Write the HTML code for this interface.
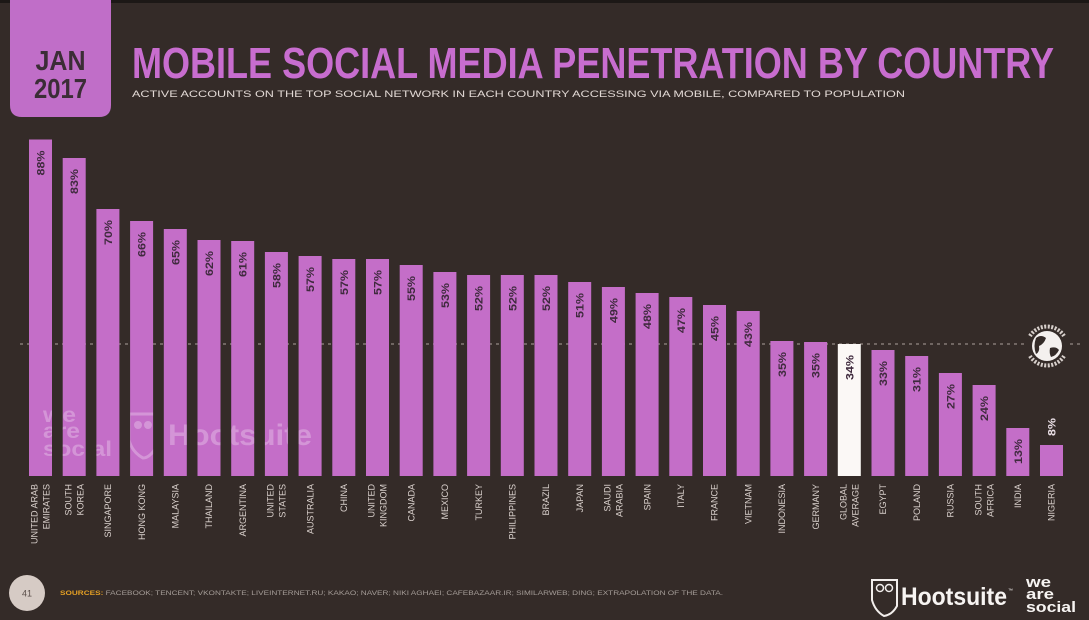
<!DOCTYPE html>
<html>
<head>
<meta charset="utf-8">
<style>
html,body{margin:0;padding:0;background:#342b28;}
body{width:1089px;height:620px;overflow:hidden;}
svg{display:block;}
.pct{font-family:"Liberation Sans",sans-serif;font-weight:bold;font-size:11px;fill:#3f2a3e;text-anchor:end;}
.cty{font-family:"Liberation Sans",sans-serif;font-size:9px;fill:#d9d0cc;text-anchor:end;}
</style>
</head>
<body>
<svg width="1089" height="620" viewBox="0 0 1089 620" xmlns="http://www.w3.org/2000/svg">
<defs>
<clipPath id="barclip">
<rect x="29" y="139.5" width="23" height="336.5"/>
<rect x="62.7" y="158" width="23" height="318"/>
<rect x="96.4" y="209" width="23" height="267"/>
<rect x="130.1" y="221" width="23" height="255"/>
<rect x="163.8" y="229" width="23" height="247"/>
<rect x="197.5" y="240" width="23" height="236"/>
<rect x="231.2" y="241" width="23" height="235"/>
<rect x="264.9" y="252" width="23" height="224"/>
<rect x="298.6" y="256" width="23" height="220"/>
</clipPath>
</defs>
<rect x="0" y="0" width="1089" height="620" fill="#342b28"/>
<rect x="0" y="0" width="1089" height="3" fill="#1c1816"/>

<!-- JAN box -->
<path d="M10 0 H111 V105 Q111 117 99 117 H22 Q10 117 10 105 Z" fill="#c06ec8"/>
<text x="60.5" y="70" text-anchor="middle" font-family="Liberation Sans, sans-serif" font-weight="bold" font-size="28" fill="#3b2d36" textLength="50" lengthAdjust="spacingAndGlyphs">JAN</text>
<text x="60.5" y="98" text-anchor="middle" font-family="Liberation Sans, sans-serif" font-weight="bold" font-size="28" fill="#3b2d36" textLength="53" lengthAdjust="spacingAndGlyphs">2017</text>

<!-- Title -->
<text x="132" y="78" font-family="Liberation Sans, sans-serif" font-weight="bold" font-size="44" fill="#c86dcf" textLength="922" lengthAdjust="spacingAndGlyphs">MOBILE SOCIAL MEDIA PENETRATION BY COUNTRY</text>
<text x="132" y="97" font-family="Liberation Sans, sans-serif" font-size="9.5" fill="#e2d9d5" textLength="773" lengthAdjust="spacingAndGlyphs">ACTIVE ACCOUNTS ON THE TOP SOCIAL NETWORK IN EACH COUNTRY ACCESSING VIA MOBILE, COMPARED TO POPULATION</text>

<!-- dashed average line -->
<line x1="20" y1="344" x2="1080" y2="344" stroke="#948a84" stroke-width="1.2" stroke-dasharray="3 4"/>

<!-- bars -->
<g fill="#c46ec8">
<rect x="29" y="139.5" width="23" height="336.5"/>
<rect x="62.7" y="158" width="23" height="318"/>
<rect x="96.4" y="209" width="23" height="267"/>
<rect x="130.1" y="221" width="23" height="255"/>
<rect x="163.8" y="229" width="23" height="247"/>
<rect x="197.5" y="240" width="23" height="236"/>
<rect x="231.2" y="241" width="23" height="235"/>
<rect x="264.9" y="252" width="23" height="224"/>
<rect x="298.6" y="256" width="23" height="220"/>
<rect x="332.3" y="259" width="23" height="217"/>
<rect x="366" y="259" width="23" height="217"/>
<rect x="399.7" y="265" width="23" height="211"/>
<rect x="433.4" y="272" width="23" height="204"/>
<rect x="467.1" y="275" width="23" height="201"/>
<rect x="500.8" y="275" width="23" height="201"/>
<rect x="534.5" y="275" width="23" height="201"/>
<rect x="568.2" y="282" width="23" height="194"/>
<rect x="601.9" y="287" width="23" height="189"/>
<rect x="635.6" y="293" width="23" height="183"/>
<rect x="669.3" y="297" width="23" height="179"/>
<rect x="703" y="305" width="23" height="171"/>
<rect x="736.7" y="311" width="23" height="165"/>
<rect x="770.4" y="341" width="23" height="135"/>
<rect x="804.1" y="342" width="23" height="134"/>
<rect x="871.5" y="350" width="23" height="126"/>
<rect x="905.2" y="356" width="23" height="120"/>
<rect x="938.9" y="373" width="23" height="103"/>
<rect x="972.6" y="385" width="23" height="91"/>
<rect x="1006.3" y="428" width="23" height="48"/>
<rect x="1040" y="445" width="23" height="31"/>
</g>
<rect x="837.8" y="344" width="23" height="132" fill="#fbf8f6"/>

<!-- watermarks clipped to bars -->
<g clip-path="url(#barclip)" fill="#ffffff" fill-opacity="0.27" font-family="Liberation Sans, sans-serif" font-weight="bold">
<text x="43" y="422" font-size="21" textLength="33" lengthAdjust="spacingAndGlyphs">we</text>
<text x="43" y="438" font-size="21" textLength="37" lengthAdjust="spacingAndGlyphs">are</text>
<text x="43" y="456" font-size="21" textLength="69" lengthAdjust="spacingAndGlyphs">social</text>
<path d="M129 414 L157 414 L157 446 Q150 458 143 458 Q132 452 129 440 Z" fill="none" stroke="#ffffff" stroke-opacity="0.27" stroke-width="3"/>
<circle cx="138" cy="425" r="4"/><circle cx="148" cy="425" r="4"/>
<text x="168" y="445" font-size="30" textLength="144" lengthAdjust="spacingAndGlyphs">Hootsuite</text>
</g>

<!-- percent labels -->
<g class="pct">
<text transform="translate(44.5,150.5) rotate(-90)" textLength="25" lengthAdjust="spacingAndGlyphs">88%</text>
<text transform="translate(78.2,169) rotate(-90)" textLength="25" lengthAdjust="spacingAndGlyphs">83%</text>
<text transform="translate(111.9,220) rotate(-90)" textLength="25" lengthAdjust="spacingAndGlyphs">70%</text>
<text transform="translate(145.6,232) rotate(-90)" textLength="25" lengthAdjust="spacingAndGlyphs">66%</text>
<text transform="translate(179.3,240) rotate(-90)" textLength="25" lengthAdjust="spacingAndGlyphs">65%</text>
<text transform="translate(213,251) rotate(-90)" textLength="25" lengthAdjust="spacingAndGlyphs">62%</text>
<text transform="translate(246.7,252) rotate(-90)" textLength="25" lengthAdjust="spacingAndGlyphs">61%</text>
<text transform="translate(280.4,263) rotate(-90)" textLength="25" lengthAdjust="spacingAndGlyphs">58%</text>
<text transform="translate(314.1,267) rotate(-90)" textLength="25" lengthAdjust="spacingAndGlyphs">57%</text>
<text transform="translate(347.8,270) rotate(-90)" textLength="25" lengthAdjust="spacingAndGlyphs">57%</text>
<text transform="translate(381.5,270) rotate(-90)" textLength="25" lengthAdjust="spacingAndGlyphs">57%</text>
<text transform="translate(415.2,276) rotate(-90)" textLength="25" lengthAdjust="spacingAndGlyphs">55%</text>
<text transform="translate(448.9,283) rotate(-90)" textLength="25" lengthAdjust="spacingAndGlyphs">53%</text>
<text transform="translate(482.6,286) rotate(-90)" textLength="25" lengthAdjust="spacingAndGlyphs">52%</text>
<text transform="translate(516.3,286) rotate(-90)" textLength="25" lengthAdjust="spacingAndGlyphs">52%</text>
<text transform="translate(550,286) rotate(-90)" textLength="25" lengthAdjust="spacingAndGlyphs">52%</text>
<text transform="translate(583.7,293) rotate(-90)" textLength="25" lengthAdjust="spacingAndGlyphs">51%</text>
<text transform="translate(617.4,298) rotate(-90)" textLength="25" lengthAdjust="spacingAndGlyphs">49%</text>
<text transform="translate(651.1,304) rotate(-90)" textLength="25" lengthAdjust="spacingAndGlyphs">48%</text>
<text transform="translate(684.8,308) rotate(-90)" textLength="25" lengthAdjust="spacingAndGlyphs">47%</text>
<text transform="translate(718.5,316) rotate(-90)" textLength="25" lengthAdjust="spacingAndGlyphs">45%</text>
<text transform="translate(752.2,322) rotate(-90)" textLength="25" lengthAdjust="spacingAndGlyphs">43%</text>
<text transform="translate(785.9,352) rotate(-90)" textLength="25" lengthAdjust="spacingAndGlyphs">35%</text>
<text transform="translate(819.6,353) rotate(-90)" textLength="25" lengthAdjust="spacingAndGlyphs">35%</text>
<text transform="translate(853.3,355) rotate(-90)" textLength="25" lengthAdjust="spacingAndGlyphs">34%</text>
<text transform="translate(887,361) rotate(-90)" textLength="25" lengthAdjust="spacingAndGlyphs">33%</text>
<text transform="translate(920.7,367) rotate(-90)" textLength="25" lengthAdjust="spacingAndGlyphs">31%</text>
<text transform="translate(954.4,384) rotate(-90)" textLength="25" lengthAdjust="spacingAndGlyphs">27%</text>
<text transform="translate(988.1,396) rotate(-90)" textLength="25" lengthAdjust="spacingAndGlyphs">24%</text>
<text transform="translate(1021.8,439) rotate(-90)" textLength="25" lengthAdjust="spacingAndGlyphs">13%</text>
<text transform="translate(1055.5,418) rotate(-90)" textLength="18" lengthAdjust="spacingAndGlyphs" fill="#eadfe6">8%</text>
</g>

<!-- country labels -->
<g class="cty">
<text transform="translate(37.7,484) rotate(-90)">UNITED ARAB</text>
<text transform="translate(49.7,484) rotate(-90)">EMIRATES</text>
<text transform="translate(71.4,484) rotate(-90)">SOUTH</text>
<text transform="translate(83.4,484) rotate(-90)">KOREA</text>
<text transform="translate(111.1,484) rotate(-90)">SINGAPORE</text>
<text transform="translate(144.8,484) rotate(-90)">HONG KONG</text>
<text transform="translate(178.5,484) rotate(-90)">MALAYSIA</text>
<text transform="translate(212.2,484) rotate(-90)">THAILAND</text>
<text transform="translate(245.9,484) rotate(-90)">ARGENTINA</text>
<text transform="translate(273.6,484) rotate(-90)">UNITED</text>
<text transform="translate(285.6,484) rotate(-90)">STATES</text>
<text transform="translate(313.3,484) rotate(-90)">AUSTRALIA</text>
<text transform="translate(347,484) rotate(-90)">CHINA</text>
<text transform="translate(374.7,484) rotate(-90)">UNITED</text>
<text transform="translate(386.7,484) rotate(-90)">KINGDOM</text>
<text transform="translate(414.4,484) rotate(-90)">CANADA</text>
<text transform="translate(448.1,484) rotate(-90)">MEXICO</text>
<text transform="translate(481.8,484) rotate(-90)">TURKEY</text>
<text transform="translate(515.5,484) rotate(-90)">PHILIPPINES</text>
<text transform="translate(549.2,484) rotate(-90)">BRAZIL</text>
<text transform="translate(582.9,484) rotate(-90)">JAPAN</text>
<text transform="translate(610.6,484) rotate(-90)">SAUDI</text>
<text transform="translate(622.6,484) rotate(-90)">ARABIA</text>
<text transform="translate(650.3,484) rotate(-90)">SPAIN</text>
<text transform="translate(684,484) rotate(-90)">ITALY</text>
<text transform="translate(717.7,484) rotate(-90)">FRANCE</text>
<text transform="translate(751.4,484) rotate(-90)">VIETNAM</text>
<text transform="translate(785.1,484) rotate(-90)">INDONESIA</text>
<text transform="translate(818.8,484) rotate(-90)">GERMANY</text>
<text transform="translate(846.5,484) rotate(-90)">GLOBAL</text>
<text transform="translate(858.5,484) rotate(-90)">AVERAGE</text>
<text transform="translate(886.2,484) rotate(-90)">EGYPT</text>
<text transform="translate(919.9,484) rotate(-90)">POLAND</text>
<text transform="translate(953.6,484) rotate(-90)">RUSSIA</text>
<text transform="translate(981.3,484) rotate(-90)">SOUTH</text>
<text transform="translate(993.3,484) rotate(-90)">AFRICA</text>
<text transform="translate(1021,484) rotate(-90)">INDIA</text>
<text transform="translate(1054.7,484) rotate(-90)">NIGERIA</text>
</g>

<!-- globe icon -->
<rect x="1026" y="320" width="42" height="54" fill="#342b28"/>
<path d="M1030 336 A20 20 0 0 1 1064 336" fill="none" stroke="#d8d0cc" stroke-width="4" stroke-dasharray="2 1.5"/>
<path d="M1030 356 A20 20 0 0 0 1064 356" fill="none" stroke="#d8d0cc" stroke-width="4" stroke-dasharray="2 1.5"/>
<circle cx="1047" cy="346" r="15" fill="#f4f0ee"/>
<path d="M1036 338 Q1041 334 1046 338 Q1044 344 1039 346 Q1040 352 1036 354 Q1033 346 1036 338 Z" fill="#342b28"/>
<path d="M1050 348 Q1056 346 1059 350 Q1056 356 1051 357 Q1049 353 1050 348 Z" fill="#342b28"/>

<!-- footer -->
<circle cx="27" cy="593" r="18" fill="#d6cbc5"/>
<text x="27" y="596.5" text-anchor="middle" font-family="Liberation Sans, sans-serif" font-size="9" fill="#5a4e4a">41</text>
<text x="60" y="595" font-family="Liberation Sans, sans-serif" font-size="6.5" fill="#a59d98" textLength="663" lengthAdjust="spacingAndGlyphs"><tspan fill="#e5a024" font-weight="bold">SOURCES:</tspan> FACEBOOK; TENCENT; VKONTAKTE; LIVEINTERNET.RU; KAKAO; NAVER; NIKI AGHAEI; CAFEBAZAAR.IR; SIMILARWEB; DING; EXTRAPOLATION OF THE DATA.</text>

<!-- Hootsuite logo -->
<path d="M872 580 L897 580 L897 606 Q892 615 884 616 Q875 611 872 600 Z" fill="none" stroke="#f2eeec" stroke-width="2"/>
<circle cx="880" cy="588" r="3.5" fill="none" stroke="#f2eeec" stroke-width="1.5"/>
<circle cx="889" cy="588" r="3.5" fill="none" stroke="#f2eeec" stroke-width="1.5"/>
<text x="901" y="605" font-family="Liberation Sans, sans-serif" font-weight="bold" font-size="25" fill="#f7f4f2" textLength="106" lengthAdjust="spacingAndGlyphs">Hootsuite</text>
<text x="1008" y="592" font-family="Liberation Sans, sans-serif" font-size="5" fill="#f7f4f2">™</text>
<g font-family="Liberation Sans, sans-serif" font-weight="bold" fill="#f7f4f2">
<text x="1026" y="587" font-size="15" textLength="25" lengthAdjust="spacingAndGlyphs">we</text>
<text x="1026" y="599" font-size="15" textLength="28" lengthAdjust="spacingAndGlyphs">are</text>
<text x="1026" y="612" font-size="15" textLength="50" lengthAdjust="spacingAndGlyphs">social</text>
</g>
</svg>
</body>
</html>
